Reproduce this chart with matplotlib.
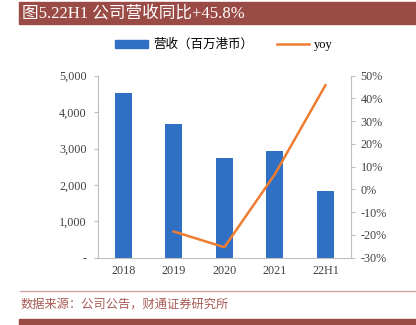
import matplotlib
matplotlib.use("Agg")
import matplotlib.pyplot as plt
from matplotlib.patches import Rectangle
from matplotlib.lines import Line2D

years = ["2018", "2019", "2020", "2021", "22H1"]
revenue = [4516, 3681, 2747, 2931, 1832]
yoy_years = ["2019", "2020", "2021", "22H1"]
yoy = [-18.5, -25.4, 6.7, 45.8]

title = "图5.22H1 公司营收同比+45.8%"
source = "数据来源：公司公告，财通证券研究所"
bar_label = "营收（百万港币）"
line_label = "yoy"

serif = ["Liberation Serif", "Noto Sans CJK SC"]
blue = "#2F70C5"
orange = "#ED7D31"
banner = "#9B4B46"

fig = plt.figure(figsize=(4.16, 3.25), dpi=100)

# title banner
fig.patches.append(Rectangle((19 / 416, 1 - 24 / 325), 397 / 416, 22 / 325,
                             transform=fig.transFigure, color=banner, zorder=0))
fig.text(22 / 416, 1 - 13 / 325, title, color="white", fontsize=12,
         family=serif, va="center", ha="left")

ax = fig.add_axes([98 / 416, 67.3 / 325, 252.7 / 416, 182 / 325])
x = list(range(len(years)))
ax.bar(x, revenue, width=0.34, color=blue, zorder=2)
ax.set_xlim(-0.5, len(years) - 0.5)
ax.set_ylim(0, 5000)
ax.set_yticks([0, 1000, 2000, 3000, 4000, 5000])
ax.set_yticklabels(["-", "1,000", "2,000", "3,000", "4,000", "5,000"])
ax.set_xticks(x)
ax.set_xticklabels(years)
for s in ["top", "right"]:
    ax.spines[s].set_visible(False)
for s in ["left", "bottom"]:
    ax.spines[s].set_color("#BFBFBF")
    ax.spines[s].set_linewidth(0.8)
ax.tick_params(axis="y", length=3, color="#BFBFBF", labelsize=8.7, pad=5)
ax.tick_params(axis="x", length=0, labelsize=8.7, pad=5)
for lab in ax.get_xticklabels() + ax.get_yticklabels():
    lab.set_family(serif)
    lab.set_color("#404040")

ax2 = ax.twinx()
ax2.plot([years.index(y) for y in yoy_years], yoy, color=orange, lw=1.8, zorder=3)
ax2.set_ylim(-30, 50)
ax2.set_yticks(range(-30, 51, 10))
ax2.set_yticklabels([f"{v}%" for v in range(-30, 51, 10)])
for s in ["top", "left", "bottom"]:
    ax2.spines[s].set_visible(False)
ax2.spines["right"].set_color("#BFBFBF")
ax2.spines["right"].set_linewidth(0.8)
ax2.tick_params(axis="y", length=3, color="#BFBFBF", labelsize=8.7, pad=4)
for lab in ax2.get_yticklabels():
    lab.set_family(serif)
    lab.set_color("#404040")

handles = [Rectangle((0, 0), 1, 1, color=blue),
           Line2D([0], [0], color=orange, lw=1.8)]
fig.legend(handles, [bar_label, line_label], loc="center",
           bbox_to_anchor=(224 / 416, 1 - 45 / 325), ncol=2, frameon=False,
           prop={"family": serif, "size": 9}, handlelength=2.6,
           handleheight=0.6, columnspacing=1.9, handletextpad=0.4)

# bottom rule, source and next banner
fig.add_artist(Line2D([20 / 416, 1], [1 - 291 / 325] * 2, transform=fig.transFigure,
                      color="#CFA5A3", lw=1))
fig.text(21 / 416, 1 - 305 / 325, source, color="#A85A55", fontsize=8.8,
         family=serif, va="center", ha="left")
fig.patches.append(Rectangle((19 / 416, 0), 397 / 416, 6 / 325,
                             transform=fig.transFigure, color=banner, zorder=0))

fig.savefig("out.png", dpi=100)
